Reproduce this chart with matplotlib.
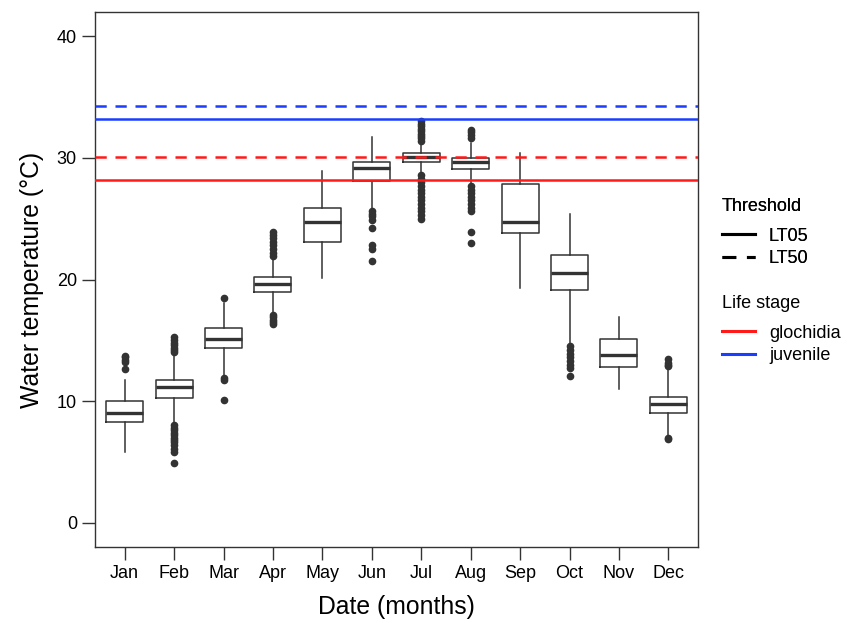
import matplotlib
matplotlib.use("Agg")
import matplotlib.pyplot as plt
from matplotlib.lines import Line2D

plt.rcParams['font.family'] = ['Liberation Sans', 'DejaVu Sans']

months = ['Jan', 'Feb', 'Mar', 'Apr', 'May', 'Jun', 'Jul', 'Aug', 'Sep', 'Oct', 'Nov', 'Dec']

# box statistics (deg C)
whislo = [5.8, 8.1, 12.1, 17.3, 20.1, 25.8, 28.8, 27.9, 19.3, 14.7, 11.0, 7.1]
q1 = [8.3, 10.25, 14.4, 19.0, 23.1, 28.1, 29.65, 29.05, 23.8, 19.1, 12.8, 9.0]
med = [9.0, 11.15, 15.1, 19.6, 24.7, 29.2, 30.1, 29.65, 24.7, 20.5, 13.8, 9.8]
q3 = [10.0, 11.7, 16.0, 20.2, 25.9, 29.65, 30.4, 30.0, 27.85, 22.05, 15.1, 10.3]
whishi = [11.7, 13.9, 18.1, 21.7, 28.9, 31.7, 31.2, 31.2, 30.4, 25.35, 16.9, 12.8]

outliers = [
    [12.6, 13.2, 13.4, 13.6, 13.7],
    [14.0, 14.2, 14.4, 14.6, 14.8, 15.0, 15.3,
     8.0, 7.8, 7.6, 7.4, 7.2, 7.0, 6.8, 6.6, 6.4, 6.1, 5.8, 4.9],
    [18.5, 11.9, 11.7, 10.1],
    [21.9, 22.2, 22.5, 22.8, 23.1, 23.4, 23.7, 23.9, 17.1, 16.9, 16.7, 16.5, 16.3],
    [],
    [25.6, 25.4, 25.2, 24.9, 24.2, 22.8, 22.5, 21.5],
    [31.4, 31.6, 31.8, 32.0, 32.2, 32.4, 32.6, 32.8, 33.0,
     28.6, 28.3, 28.0, 27.7, 27.4, 27.1, 26.8, 26.5, 26.2, 25.9, 25.6, 25.3, 25.0],
    [31.6, 31.9, 32.1, 32.3, 27.7, 27.4, 27.1, 26.8, 26.5, 26.2, 25.9, 25.6, 23.9, 23.0],
    [],
    [14.5, 14.2, 13.9, 13.6, 13.3, 13.0, 12.7, 12.1],
    [],
    [12.9, 13.0, 13.1, 13.5, 6.9, 7.0],
]

# lethal thresholds
thr_values = [28.2, 30.1, 33.2, 34.3]
thr_type = ['LT05', 'LT50', 'LT05', 'LT50']
thr_stage = ['glochidia', 'glochidia', 'juvenile', 'juvenile']
stage_colors = {'glochidia': '#ff1a1a', 'juvenile': '#1a3dff'}
type_styles = {'LT05': '-', 'LT50': (0, (4.5, 3.5))}

stats = []
for i in range(len(months)):
    stats.append(dict(whislo=whislo[i], q1=q1[i], med=med[i], q3=q3[i],
                      whishi=whishi[i], fliers=outliers[i]))

fig = plt.figure(figsize=(8.59, 6.23), dpi=100)
ax = fig.add_axes([0.1106, 0.122, 0.7020, 0.8587])

gray = '#333333'
ax.bxp(stats, positions=range(1, 13), widths=0.75, patch_artist=False,
       showcaps=False,
       boxprops=dict(color=gray, linewidth=1.1),
       whiskerprops=dict(color=gray, linewidth=1.1),
       medianprops=dict(color=gray, linewidth=2.4),
       flierprops=dict(marker='o', markerfacecolor=gray, markeredgecolor=gray,
                       markersize=4.5))

for v, t, s in zip(thr_values, thr_type, thr_stage):
    ax.axhline(v, color=stage_colors[s], linestyle=type_styles[t], linewidth=1.8, zorder=3)

ax.set_xlim(0.4, 12.6)
ax.set_ylim(-2, 42)
ax.set_xticks(range(1, 13))
ax.set_xticklabels(months)
ax.set_yticks([0, 10, 20, 30, 40])
ax.tick_params(axis='both', labelsize=13, length=9.5, width=1.0, color=gray, pad=3.5)
for sp in ax.spines.values():
    sp.set_color(gray)
    sp.set_linewidth(1.0)
ax.set_xlabel('Date (months)', fontsize=17.8, labelpad=9)
ax.set_ylabel('Water temperature (°C)', fontsize=17.8, labelpad=9)

h1 = [Line2D([], [], color='black', linestyle=type_styles[t], linewidth=2.2) for t in ['LT05', 'LT50']]
leg1 = fig.legend(h1, ['LT05', 'LT50'], title='Threshold', loc='upper left',
                  bbox_to_anchor=(0.8405, 0.682), frameon=False, fontsize=13,
                  title_fontsize=13, handlelength=1.85, handletextpad=0.75,
                  alignment='left', labelspacing=0.3, borderpad=0, borderaxespad=0)
h2 = [Line2D([], [], color=stage_colors[s], linewidth=2.2) for s in ['glochidia', 'juvenile']]
leg2 = fig.legend(h2, ['glochidia', 'juvenile'], title='Life stage', loc='upper left',
                  bbox_to_anchor=(0.8405, 0.526), frameon=False, fontsize=13,
                  title_fontsize=13, handlelength=1.85, handletextpad=0.75,
                  alignment='left', labelspacing=0.3, borderpad=0, borderaxespad=0)
# more room between legend title and its entries
leg1._legend_box.sep = 9
leg2._legend_box.sep = 9
fig.add_artist(leg1)

fig.savefig('out.png', dpi=100)
